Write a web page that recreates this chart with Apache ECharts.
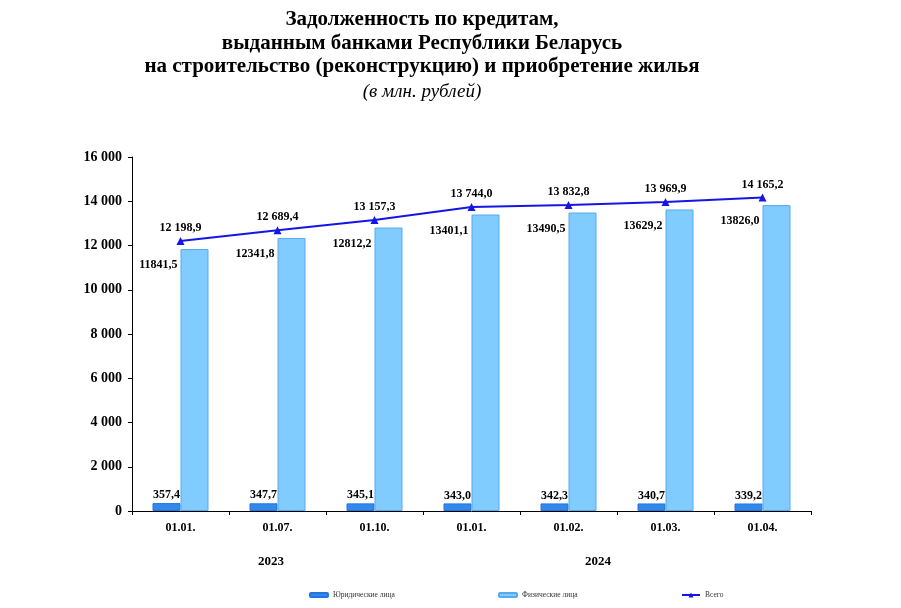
<!DOCTYPE html>
<html>
<head>
<meta charset="utf-8">
<script src="https://cdn.jsdelivr.net/npm/echarts@6/dist/echarts.min.js"></script>
<style>html,body{margin:0;padding:0;background:#fff}#c{width:901px;height:608px}</style>
</head>
<body>
<div id="c"></div>
<script>
const categories = ['01.01.', '01.07.', '01.10.', '01.01.', '01.02.', '01.03.', '01.04.'];
const legalEntities = [357.4, 347.7, 345.1, 343.0, 342.3, 340.7, 339.2];
const individuals = [11841.5, 12341.8, 12812.2, 13401.1, 13490.5, 13629.2, 13826.0];
const total = [12198.9, 12689.4, 13157.3, 13744.0, 13832.8, 13969.9, 14165.2];
const yTicks = [0, 2000, 4000, 6000, 8000, 10000, 12000, 14000, 16000];
const years = ['2023', '2024'];
const seriesNames = ['Юридические лица', 'Физические лица', 'Всего'];

const serif = '"Liberation Serif", "DejaVu Serif", serif';
const fmtSpace = v => {
  const s = Math.round(v).toString();
  return s.replace(/\B(?=(\d{3})+(?!\d))/g, ' ');
};
const fmt1 = v => v.toFixed(1).replace('.', ',');
const fmtTotal = v => {
  const [i, d] = v.toFixed(1).split('.');
  return i.replace(/\B(?=(\d{3})+(?!\d))/g, ' ') + ',' + d;
};

const chart = echarts.init(document.getElementById('c'));
const labelBase = { fontFamily: serif, fontWeight: 'bold', fontSize: 12, color: '#000' };
chart.setOption({
  animation: false,
  backgroundColor: '#fff',
  title: [{
    text: 'Задолженность по кредитам,\nвыданным банками Республики Беларусь\nна строительство (реконструкцию) и приобретение жилья',
    left: 417, top: 3, textAlign: 'center',
    textStyle: { fontFamily: serif, fontWeight: 'bold', fontSize: 21, color: '#000', lineHeight: 23.5 }
  }, {
    text: '(в млн. рублей)',
    left: 417, top: 77, textAlign: 'center',
    textStyle: { fontFamily: serif, fontStyle: 'italic', fontWeight: 'normal', fontSize: 19, color: '#000' }
  }],
  legend: [
    { data: [seriesNames[0]], left: 304, top: 586, itemWidth: 18, itemHeight: 4,
      textStyle: { fontFamily: serif, fontSize: 7.5, color: '#333' } },
    { data: [seriesNames[1]], left: 493, top: 586, itemWidth: 18, itemHeight: 4,
      textStyle: { fontFamily: serif, fontSize: 7.5, color: '#333' } },
    { data: [seriesNames[2]], left: 676, top: 586, itemWidth: 18, itemHeight: 6,
      textStyle: { fontFamily: serif, fontSize: 7.5, color: '#333' } }
  ],
  grid: { left: 132, right: 90, top: 157, bottom: 97 },
  xAxis: {
    type: 'category', data: categories,
    axisLine: { lineStyle: { color: '#000', width: 1 } },
    axisTick: { show: true, length: 4, inside: false, lineStyle: { color: '#000' } },
    axisLabel: { fontFamily: serif, fontWeight: 'bold', fontSize: 12, color: '#000', margin: 11 }
  },
  yAxis: {
    type: 'value', min: 0, max: 16000, interval: 2000,
    splitLine: { show: false },
    axisLine: { show: true, lineStyle: { color: '#000', width: 1 } },
    axisTick: { show: true, length: 4, lineStyle: { color: '#000' } },
    axisLabel: {
      fontFamily: serif, fontWeight: 'bold', fontSize: 14, color: '#000', margin: 10,
      customValues: yTicks, formatter: v => fmtSpace(v)
    }
  },
  graphic: [
    { type: 'text', left: 258, top: 555, style: { text: years[0], font: 'bold 13px ' + serif, fill: '#000' } },
    { type: 'text', left: 585, top: 555, style: { text: years[1], font: 'bold 13px ' + serif, fill: '#000' } }
  ],
  series: [{
    name: seriesNames[0], type: 'bar', data: legalEntities, barWidth: 28, barGap: '0%',
    itemStyle: { color: '#3388EE', borderColor: '#2277DD', borderWidth: 1 },
    label: { show: true, position: 'top', distance: 2, formatter: p => fmt1(p.value), ...labelBase }
  }, {
    name: seriesNames[1], type: 'bar', data: individuals, barWidth: 28,
    itemStyle: { color: '#80CBFF', borderColor: '#55AAF0', borderWidth: 1 },
    label: { show: true, position: [-3, 16], align: 'right', verticalAlign: 'middle',
      formatter: p => fmt1(p.value), ...labelBase }
  }, {
    name: seriesNames[2], type: 'line', data: total,
    symbol: 'triangle', symbolSize: 8,
    lineStyle: { color: '#1515E6', width: 2 },
    itemStyle: { color: '#1515E6' },
    label: { show: true, position: 'top', distance: 3, formatter: p => fmtTotal(p.value), ...labelBase },
    z: 5
  }]
});
</script>
</body>
</html>
